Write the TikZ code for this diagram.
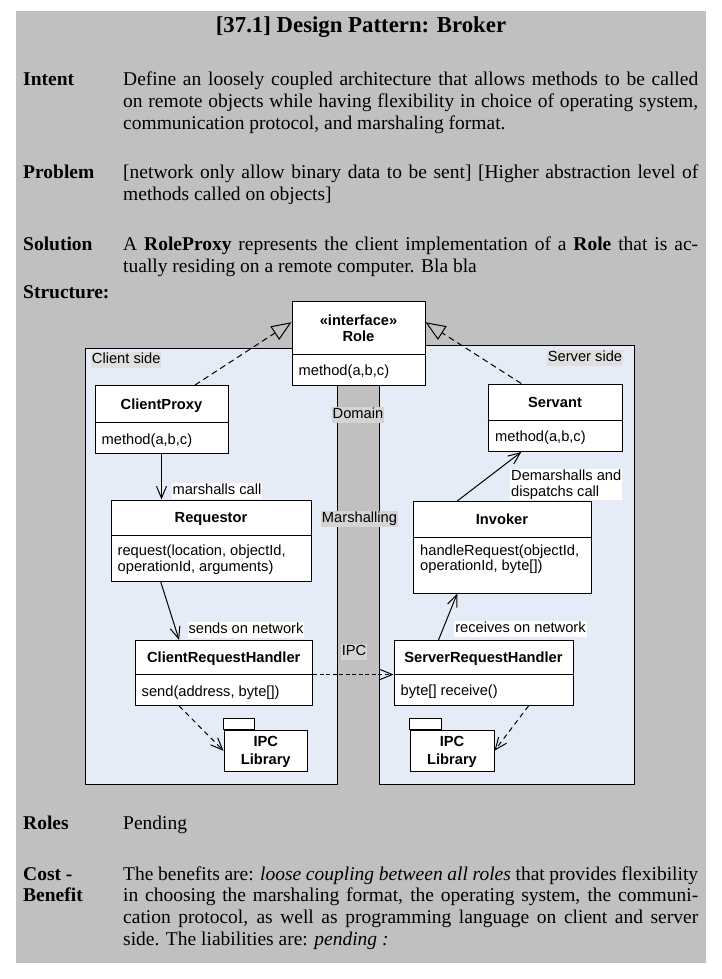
\documentclass[tikz,border=0pt]{standalone}
\usepackage{fontspec}
\setmainfont{Liberation Serif}
\setsansfont{Liberation Sans}
\usetikzlibrary{arrows.meta,calc}
\definecolor{bggray}{RGB}{192,192,192}
\definecolor{panelblue}{RGB}{229,235,247}
\definecolor{lblgray}{RGB}{212,212,212}
\definecolor{sidegray}{RGB}{223,223,223}
\newcommand{\umlfont}{\sffamily\fontsize{14.67pt}{16pt}\selectfont}
\newcommand{\bodyfont}{\rmfamily\fontsize{19.5pt}{21.8pt}\selectfont}
\newcommand{\fullline}[1]{\makebox[575pt][s]{#1}}
\begin{document}
\begin{tikzpicture}[x=1pt,y=-1pt,
  panel/.style={draw, fill=panelblue, line width=1pt, anchor=north west, inner sep=0pt},
  classbox/.style={draw, fill=white, line width=1pt, anchor=north west, inner sep=0pt},
  cname/.style={font=\umlfont\bfseries, anchor=base, inner sep=0pt},
  cmeth/.style={font=\umlfont, anchor=base west, inner sep=0pt},
  pkgtxt/.style={font=\umlfont\bfseries, anchor=base, inner sep=0pt},
  lbl/.style={font=\umlfont, anchor=north, inner xsep=1pt, inner ysep=0.75pt, text height=11pt, text depth=3.5pt},
  sectlbl/.style={font=\bodyfont\bfseries, anchor=base west, inner sep=0pt, align=left},
  para/.style={font=\bodyfont, anchor=base west, inner sep=0pt, align=left},
  realize/.style={line width=1pt, dash pattern=on 6pt off 4pt, -{Triangle[open,length=20pt,width=16pt]}},
  assoc/.style={line width=1pt, -{Straight Barb[length=12pt,width=10pt]}},
  ipcdep/.style={line width=1pt, dash pattern=on 4pt off 2.5pt, -{Straight Barb[length=12pt,width=10pt]}},
  libdep/.style={line width=1pt, dash pattern=on 5pt off 4pt, -{Straight Barb[length=12pt,width=10pt]}},
  divline/.style={line width=1pt}
]
\useasboundingbox (0,0) rectangle (722,979);
\fill[white] (0,0) rectangle (722,979);
\fill[bggray] (16,11) rectangle (706,963);

% ---------- text part (multi-line nodes: base = last line) ----------
\node[font=\rmfamily\bfseries\fontsize{22.8pt}{26pt}\selectfont, anchor=base, inner sep=0pt] (title) at (361,32.5) {[37.1] Design Pattern: Broker};

\node[sectlbl] (intentLbl) at (23,86) {Intent};
\node[para] (intentTxt) at (123,129.6) {\fullline{Define an loosely coupled architecture that allows methods to be called}\\
\fullline{on remote objects while having flexibility in choice of operating system,}\\
communication protocol, and marshaling format.};

\node[sectlbl] (problemLbl) at (23,178.7) {Problem};
\node[para] (problemTxt) at (123,200.5) {\fullline{[network only allow binary data to be sent] [Higher abstraction level of}\\
methods called on objects]};

\node[sectlbl] (solutionLbl) at (23,250.3) {Solution};
\node[para] (solutionTxt) at (123,272.1) {\fullline{A \textbf{RoleProxy} represents the client implementation of a \textbf{Role} that is ac-}\\
tually residing on a remote computer. Bla bla};

\node[sectlbl] (structLbl) at (23,298.7) {Structure:};

\node[sectlbl] (rolesLbl) at (23,829.3) {Roles};
\node[para] (rolesTxt) at (123,829.3) {Pending};

\node[sectlbl] (costLbl) at (23,901.8) {Cost -\\Benefit};
\node[para] (costTxt) at (123,945.4) {\fullline{The benefits are: \textit{loose coupling between all roles} that provides flexibility}\\
\fullline{in choosing the marshaling format, the operating system, the communi-}\\
\fullline{cation protocol, as well as programming language on client and server}\\
side. The liabilities are: \textit{pending :}};

% ---------- diagram ----------
\node[panel, minimum width=252pt, minimum height=436pt] (clientPanel) at (85,348) {};
\node[panel, minimum width=254.5pt, minimum height=439pt] (serverPanel) at (379,345) {};

\node[lbl, fill=sidegray] (clientLbl) at (126.2,352) {Client side};
\node[lbl, fill=sidegray] (serverLbl) at (585,350) {Server side};
\node[lbl, fill=lblgray] (domainLbl) at (358,407) {Domain};
\node[lbl, fill=lblgray] (marshLbl) at (359.5,511) {Marshalling};
\node[lbl, fill=lblgray] (ipcLbl) at (354,644) {IPC};

% Role
\node[classbox, minimum width=133pt, minimum height=84pt] (role) at (291.5,301) {};
\draw[divline] (role.west |- 0,354) -- (role.east |- 0,354);
\node[cname] (roleSt) at (role.center |- 0,325.5) {«interface»};
\node[cname] (roleNm) at (role.center |- 0,341) {Role};
\node[cmeth] (roleM) at (298.5,375.7) {method(a,b,c)};

% ClientProxy
\node[classbox, minimum width=133pt, minimum height=68pt] (cproxy) at (94.5,385) {};
\draw[divline] (cproxy.west |- 0,422) -- (cproxy.east |- 0,422);
\node[cname] (cproxyNm) at (cproxy.center |- 0,409) {ClientProxy};
\node[cmeth] (cproxyM) at (101.5,444) {method(a,b,c)};

% Requestor
\node[classbox, minimum width=200pt, minimum height=81.5pt] (req) at (110.5,499.5) {};
\draw[divline] (req.west |- 0,535.5) -- (req.east |- 0,535.5);
\node[cname] (reqNm) at (req.center |- 0,522.7) {Requestor};
\node[cmeth] (reqM1) at (117.5,555) {request(location, objectId,};
\node[cmeth] (reqM2) at (117.5,571) {operationId, arguments)};

% ClientRequestHandler
\node[classbox, minimum width=177.5pt, minimum height=65pt] (crh) at (134.5,640) {};
\draw[divline] (crh.west |- 0,674) -- (crh.east |- 0,674);
\node[cname] (crhNm) at (crh.center |- 0,662.3) {ClientRequestHandler};
\node[cmeth] (crhM) at (141.5,696) {send(address, byte[])};

% IPC Library (client)
\node[classbox, minimum width=83.5pt, minimum height=41.5pt] (ipcc) at (223.5,729.5) {};
\draw[line width=1pt, fill=white] (ipcc.north west) rectangle ++(31,-11);
\node[pkgtxt] (ipccT1) at (ipcc.center |- 0,746) {IPC};
\node[pkgtxt] (ipccT2) at (ipcc.center |- 0,764) {Library};

% Servant
\node[classbox, minimum width=134pt, minimum height=67.5pt] (servant) at (487.5,383.5) {};
\draw[divline] (servant.west |- 0,420) -- (servant.east |- 0,420);
\node[cname] (servantNm) at (servant.center |- 0,407) {Servant};
\node[cmeth] (servantM) at (495,441.7) {method(a,b,c)};

% Invoker
\node[classbox, minimum width=178pt, minimum height=91.5pt] (inv) at (412.5,501) {};
\draw[divline] (inv.west |- 0,537) -- (inv.east |- 0,537);
\node[cname] (invNm) at (inv.center |- 0,524) {Invoker};
\node[cmeth] (invM1) at (420,555) {handleRequest(objectId,};
\node[cmeth] (invM2) at (420,570.7) {operationId, byte[])};

% ServerRequestHandler
\node[classbox, minimum width=179pt, minimum height=65pt] (srh) at (393.5,640) {};
\draw[divline] (srh.west |- 0,674) -- (srh.east |- 0,674);
\node[cname] (srhNm) at (srh.center |- 0,662.3) {ServerRequestHandler};
\node[cmeth] (srhM) at (400.5,695) {byte[] receive()};

% IPC Library (server)
\node[classbox, minimum width=84pt, minimum height=41.5pt] (ipcs) at (409.5,729.5) {};
\draw[line width=1pt, fill=white] (ipcs.north west) rectangle ++(32,-11);
\node[pkgtxt] (ipcsT1) at (ipcs.center |- 0,746) {IPC};
\node[pkgtxt] (ipcsT2) at (ipcs.center |- 0,764) {Library};

% connectors
\draw[realize] ($(cproxy.north west)!0.75!(cproxy.north east)$) -- ($(role.north west)!0.25!(role.south west)$);
\draw[realize] ($(servant.north west)!0.25!(servant.north east)$) -- ($(role.north east)!0.25!(role.south east)$);
\draw[assoc] (cproxy.south) -- (cproxy.south |- req.north);
\draw[assoc] ($(req.south west)!0.25!(req.south east)$) -- ($(crh.north west)!0.25!(crh.north east)$);
\draw[ipcdep] ($(crh.north east)!0.523!(crh.south east)$) -- ($(srh.north west)!0.523!(srh.south west)$);
\draw[libdep] ($(crh.south west)!0.25!(crh.south east)$) -- (ipcc.west);
\draw[libdep] ($(srh.south west)!0.75!(srh.south east)$) -- (ipcs.east);
\draw[assoc] ($(srh.north west)!0.25!(srh.north east)$) -- ($(inv.south west)!0.25!(inv.south east)$);
\draw[assoc] ($(inv.north west)!0.25!(inv.north east)$) -- ($(servant.south west)!0.25!(servant.south east)$);

% connector labels
\node[lbl, fill=white] (mcLbl) at (217,483) {marshalls call};
\node[lbl, fill=white] (snLbl) at (246,622) {sends on network};
\node[lbl, fill=white] (rnLbl) at (520.5,621) {receives on network};
\node[font=\sffamily\fontsize{14.67pt}{15.5pt}\selectfont, fill=white, align=left, anchor=north west, inner sep=1pt] (dmLbl) at (510,469) {Demarshalls and\\dispatchs call};
\end{tikzpicture}
\end{document}
